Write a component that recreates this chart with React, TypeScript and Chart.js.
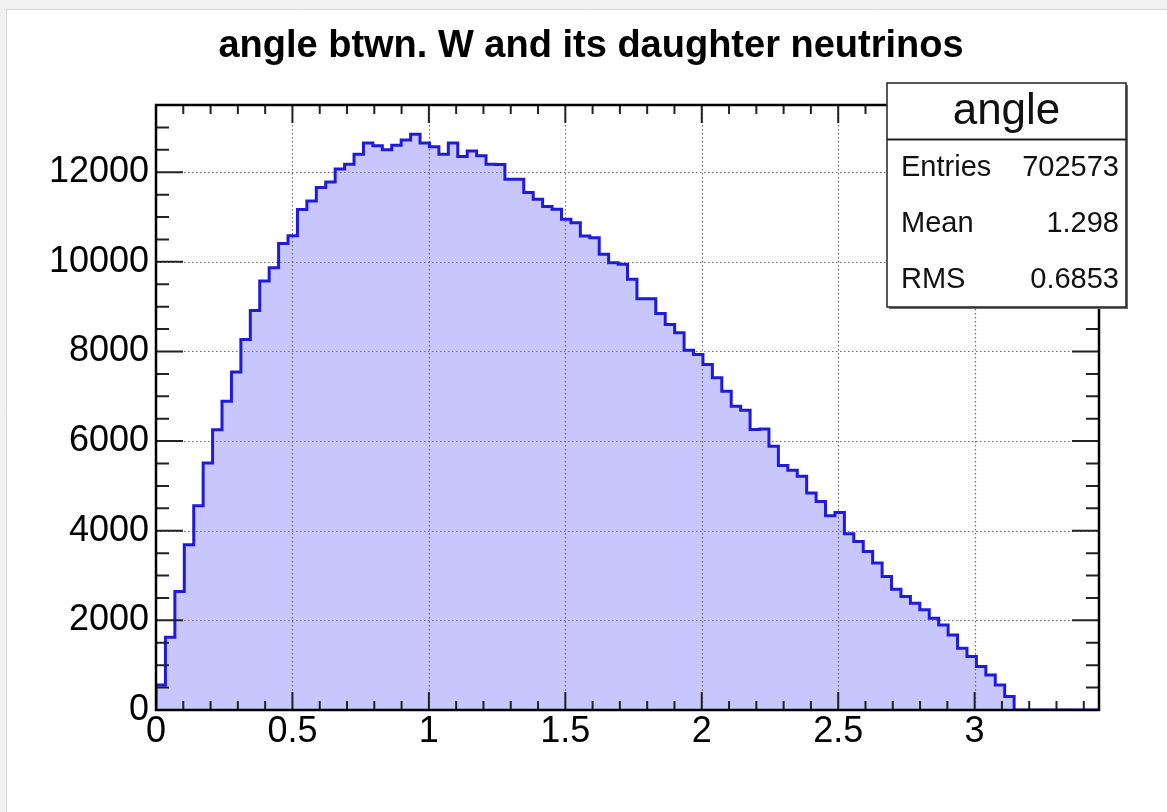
import React, { useEffect, useRef } from "react";
import { Chart, registerables } from "chart.js";

Chart.register(...registerables);

const TITLE = "angle btwn. W and its daughter neutrinos";
const HIST_NAME = "angle";
const STAT_LABELS = ["Entries", "Mean", "RMS"];
const STAT_VALUES = ["702573", "1.298", "0.6853"];

const X_MIN = 0;
const X_MAX = 1.1 * Math.PI;
const N_BINS = 100;
const Y_MAX = 13500;

const X_TICKS = [0, 0.5, 1, 1.5, 2, 2.5, 3];
const Y_TICKS = [0, 2000, 4000, 6000, 8000, 10000, 12000];
const X_MINOR_STEP = 0.1;
const Y_MINOR_STEP = 500;

// bin contents, bins 0..99
const BIN_COUNTS = [
  560, 1625, 2645, 3690, 4560, 5510, 6255, 6890, 7540, 8270,
  8915, 9570, 9870, 10410, 10580, 11170, 11360, 11660, 11780, 12070,
  12180, 12400, 12650, 12590, 12500, 12600, 12720, 12850, 12650, 12570,
  12400, 12650, 12350, 12476, 12365, 12180, 12170, 11844, 11844, 11546,
  11397, 11233, 11173, 10950, 10875, 10577, 10540, 10168, 9981, 9944,
  9609, 9177, 9177, 8849, 8603, 8417, 8030, 7933, 7709, 7412,
  7113, 6778, 6689, 6257, 6272, 5884, 5453, 5348, 5214, 4842,
  4655, 4335, 4409, 3933, 3761, 3538, 3278, 2979, 2697, 2530,
  2384, 2235, 2048, 1899, 1676, 1378, 1192, 968, 782, 559,
  300, 0, 0, 0, 0, 0, 0, 0, 0, 0,
];

const W = 1167;
const H = 812;
const FONT = '"Liberation Sans", Arial, Helvetica, sans-serif';

function buildPoints() {
  const width = (X_MAX - X_MIN) / N_BINS;
  const pts: { x: number; y: number }[] = [{ x: X_MIN, y: 0 }];
  BIN_COUNTS.forEach((c, i) => pts.push({ x: X_MIN + i * width, y: c }));
  pts.push({ x: X_MAX, y: 0 });
  return pts;
}

const rootPlugin = {
  id: "rootDecor",
  beforeDraw(chart: any) {
    const ctx = chart.ctx;
    ctx.save();
    ctx.fillStyle = "#ffffff";
    ctx.fillRect(0, 0, W, H);
    ctx.fillStyle = "#f1f1f1";
    ctx.fillRect(0, 0, W, 9);
    ctx.fillRect(0, 0, 6, H);
    ctx.strokeStyle = "#d6d6d6";
    ctx.lineWidth = 1;
    ctx.beginPath();
    ctx.moveTo(6, 9.5);
    ctx.lineTo(W, 9.5);
    ctx.moveTo(6.5, 9);
    ctx.lineTo(6.5, H);
    ctx.stroke();
    ctx.restore();
  },
  beforeDatasetDraw(chart: any) {
    const { ctx, chartArea: a, scales } = chart;
    const xs = scales.x;
    const ys = scales.y;
    ctx.save();
    ctx.strokeStyle = "#6e6e6e";
    ctx.lineWidth = 1.2;
    ctx.setLineDash([1.5, 2.5]);
    ctx.beginPath();
    X_TICKS.forEach((v) => {
      if (v === X_MIN) return;
      const px = Math.round(xs.getPixelForValue(v)) + 0.5;
      ctx.moveTo(px, a.top);
      ctx.lineTo(px, a.bottom);
    });
    Y_TICKS.forEach((v) => {
      if (v === 0) return;
      const py = Math.round(ys.getPixelForValue(v)) + 0.5;
      ctx.moveTo(a.left, py);
      ctx.lineTo(a.right, py);
    });
    ctx.stroke();
    ctx.restore();
  },
  afterDraw(chart: any) {
    const { ctx, chartArea: a, scales } = chart;
    const xs = scales.x;
    const ys = scales.y;
    ctx.save();
    // ticks
    ctx.strokeStyle = "#222";
    ctx.lineWidth = 2;
    ctx.setLineDash([]);
    ctx.beginPath();
    const nx = Math.round((X_MAX - X_MIN) / X_MINOR_STEP);
    for (let i = 0; i <= nx; i++) {
      const v = X_MIN + i * X_MINOR_STEP;
      if (v > X_MAX) break;
      const major = Math.abs(v / 0.5 - Math.round(v / 0.5)) < 1e-6;
      const len = major ? 18 : 9;
      const px = xs.getPixelForValue(v);
      ctx.moveTo(px, a.bottom);
      ctx.lineTo(px, a.bottom - len);
      ctx.moveTo(px, a.top);
      ctx.lineTo(px, a.top + len);
    }
    for (let v = 0; v <= Y_MAX; v += Y_MINOR_STEP) {
      const major = v % 2000 === 0;
      const len = major ? 27 : 13;
      const py = ys.getPixelForValue(v);
      ctx.moveTo(a.left, py);
      ctx.lineTo(a.left + len, py);
      ctx.moveTo(a.right, py);
      ctx.lineTo(a.right - len, py);
    }
    ctx.stroke();
    // frame
    ctx.strokeStyle = "#000";
    ctx.lineWidth = 2.5;
    ctx.strokeRect(a.left, a.top, a.right - a.left, a.bottom - a.top);

    // title
    ctx.fillStyle = "#000";
    ctx.font = `bold 38px ${FONT}`;
    ctx.textAlign = "center";
    ctx.textBaseline = "alphabetic";
    ctx.fillText(TITLE, 591, 57);

    // stats box
    const bx = 887, by = 83, bw = 239, bh = 224;
    ctx.fillStyle = "#6a6a6a";
    ctx.fillRect(bx + 2, by + 2, bw, bh);
    ctx.fillStyle = "#fff";
    ctx.fillRect(bx, by, bw, bh);
    ctx.strokeStyle = "#222";
    ctx.lineWidth = 1.5;
    ctx.strokeRect(bx, by, bw, bh);
    ctx.beginPath();
    ctx.moveTo(bx, by + 56.5);
    ctx.lineTo(bx + bw, by + 56.5);
    ctx.lineWidth = 2;
    ctx.stroke();
    ctx.fillStyle = "#111";
    ctx.font = `44px ${FONT}`;
    ctx.textAlign = "center";
    ctx.textBaseline = "alphabetic";
    ctx.fillText(HIST_NAME, bx + bw / 2, by + 41);
    ctx.font = `29px ${FONT}`;
    STAT_LABELS.forEach((lab, i) => {
      const y = 176 + i * 56;
      ctx.textAlign = "left";
      ctx.fillText(lab, 901, y);
      ctx.textAlign = "right";
      ctx.fillText(STAT_VALUES[i], 1119, y);
    });
    ctx.restore();
  },
};

export default function App() {
  const ref = useRef<HTMLCanvasElement | null>(null);
  useEffect(() => {
    if (!ref.current) return;
    const chart = new Chart(ref.current, {
      type: "line",
      data: {
        datasets: [
          {
            label: HIST_NAME,
            data: buildPoints(),
            stepped: "before",
            borderColor: "rgb(32,26,222)",
            borderWidth: 3,
            backgroundColor: "#c7c6fd",
            fill: "origin",
            pointRadius: 0,
            tension: 0,
          },
        ],
      },
      options: {
        animation: false,
        responsive: false,
        devicePixelRatio: 1,
        parsing: false,
        layout: { padding: { left: 0, top: 105, right: 68, bottom: 0 } },
        plugins: {
          legend: { display: false },
          title: { display: false },
          tooltip: { enabled: false },
        },
        scales: {
          x: {
            type: "linear",
            min: X_MIN,
            max: X_MAX,
            afterFit: (s: any) => {
              s.height = 102;
            },
            afterBuildTicks: (s: any) => {
              s.ticks = X_TICKS.map((v) => ({ value: v }));
            },
            ticks: {
              includeBounds: false,
              autoSkip: false,
              maxRotation: 0,
              padding: 0,
              color: "#000",
              font: { family: FONT, size: 36 },
              callback: (v: any) => String(v),
            },
            grid: { display: false, drawTicks: false },
            border: { display: false },
          },
          y: {
            type: "linear",
            min: 0,
            max: Y_MAX,
            afterFit: (s: any) => {
              s.width = 156;
            },
            afterBuildTicks: (s: any) => {
              s.ticks = Y_TICKS.map((v) => ({ value: v }));
            },
            ticks: {
              includeBounds: false,
              autoSkip: false,
              padding: 7,
              color: "#000",
              font: { family: FONT, size: 36 },
              callback: (v: any) => String(v),
            },
            grid: { display: false, drawTicks: false },
            border: { display: false },
          },
        },
      },
      plugins: [rootPlugin],
    } as any);
    return () => chart.destroy();
  }, []);
  return (
    <canvas
      ref={ref}
      width={W}
      height={H}
      style={{ position: "fixed", left: 0, top: 0, width: W, height: H }}
    />
  );
}
